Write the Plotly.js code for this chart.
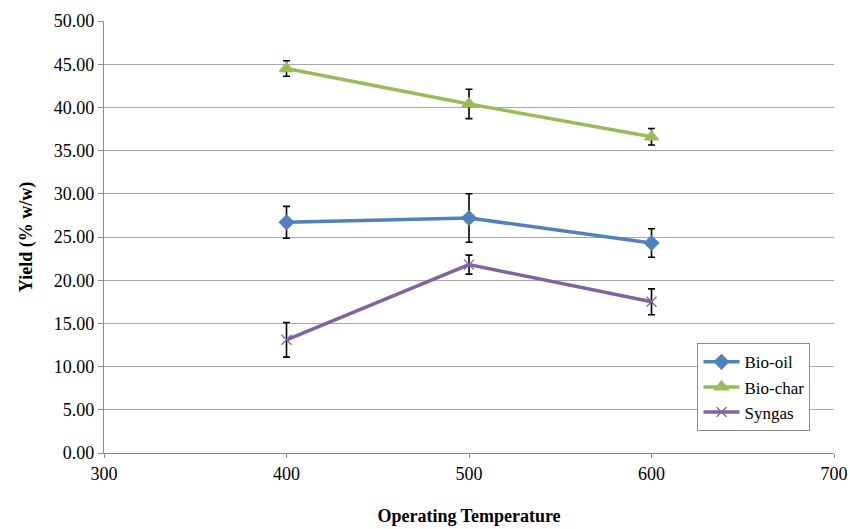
<!DOCTYPE html>
<html><head><meta charset="utf-8">
<script src="https://cdn.plot.ly/plotly-3.0.1.min.js"></script>
<style>html,body{margin:0;padding:0;background:#fff}#chart{width:850px;height:529px}</style>
</head><body><div id="chart"></div>
<script>
const temperatures = [400, 500, 600];
const bioOil = [26.7, 27.2, 24.3];
const bioOilErr = [1.85, 2.8, 1.65];
const bioChar = [44.5, 40.4, 36.6];
const bioCharErr = [0.9, 1.7, 0.95];
const syngas = [13.1, 21.8, 17.5];
const syngasErr = [2.0, 1.1, 1.5];
const yTicks = [0,5,10,15,20,25,30,35,40,45,50];
const xTicks = [300,400,500,600,700];

function tr(name, y, err, color, symbol, size){
  return {x: temperatures, y: y, name: name, type:'scatter', mode:'lines+markers',
    line:{color:color, width:3.5},
    marker:{color:color, symbol:symbol, size:size, line:{color:color, width:1.3}},
    error_y:{type:'data', array:err, visible:true, color:'#000', thickness:1.6, width:3.5}};
}
const data = [
  tr('Bio-oil', bioOil, bioOilErr, '#4f81bd', 'diamond', 11),
  tr('Bio-char', bioChar, bioCharErr, '#9bbb59', 'triangle-up', 12),
  tr('Syngas', syngas, syngasErr, '#8064a2', 'x-thin', 10)
];
const FAM = 'Liberation Serif, Times New Roman, DejaVu Serif, serif';
const font = {family:FAM, size:18, color:'#000'};
const layout = {
  width:850, height:529,
  margin:{l:104, r:16, t:21, b:76},
  paper_bgcolor:'#fff', plot_bgcolor:'#fff',
  font: font,
  showlegend:true,
  legend:{x:0.813, y:0.254, xanchor:'left', yanchor:'top', bgcolor:'#fff',
    bordercolor:'#8c8c8c', borderwidth:1, font:{family:FAM, size:17, color:'#000'},
    tracegroupgap:0, itemwidth:36},
  xaxis:{range:[300,700], tickvals:xTicks, ticktext:xTicks.map(String), showgrid:false, zeroline:false,
    showline:true, linecolor:'#8c8c8c', linewidth:1.3, ticks:'outside', ticklen:4, tickcolor:'#8c8c8c',
    tickfont:font,
    title:{text:'<b>Operating Temperature</b>', font:{family:FAM, size:18, color:'#000'}, standoff:26}},
  yaxis:{range:[0,50], tickvals:yTicks, ticktext:yTicks.map(v=>v.toFixed(2)), showgrid:true, gridcolor:'#a6a6a6', gridwidth:1.3,
    zeroline:false, showline:true, linecolor:'#8c8c8c', linewidth:1.3, ticks:'outside', ticklen:5, tickcolor:'#8c8c8c',
    tickfont:font,
    title:{text:'<b>Yield (% w/w)</b>', font:{family:FAM, size:18, color:'#000'}, standoff:16}}
};
Plotly.newPlot('chart', data, layout, {displayModeBar:false});
</script></body></html>
